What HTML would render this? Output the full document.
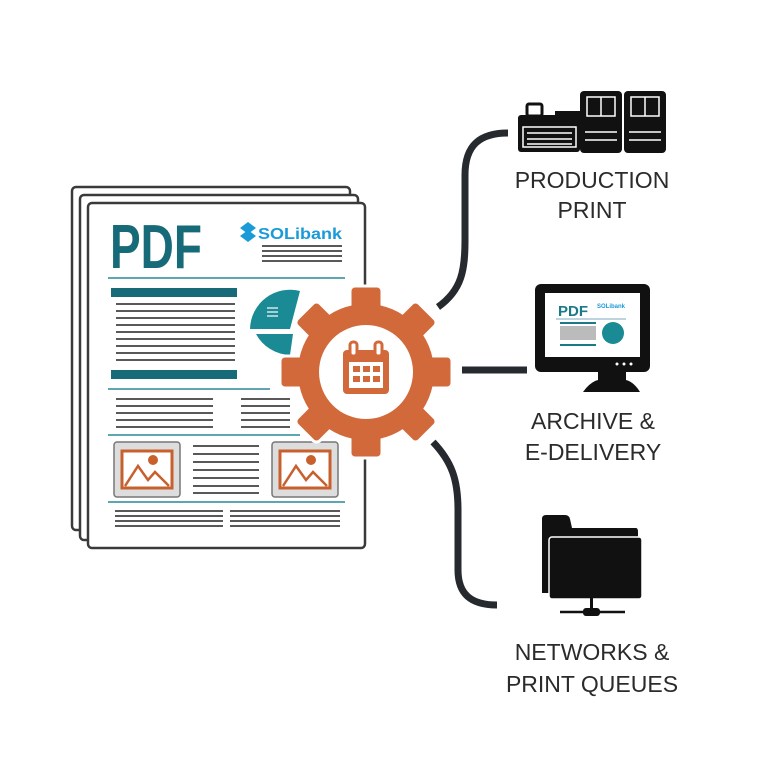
<!DOCTYPE html>
<html><head><meta charset="utf-8"><style>
html,body{margin:0;padding:0;background:#fff;}
svg{display:block}
text{font-family:"Liberation Sans",sans-serif}
</style></head><body>
<svg width="768" height="768" viewBox="0 0 768 768" xmlns="http://www.w3.org/2000/svg">
<rect width="768" height="768" fill="#fff"/>
<!-- pages -->
<rect x="72" y="187" width="278" height="343" rx="4" fill="#fff" stroke="#3a3a3a" stroke-width="2.5"/>
<rect x="80" y="195" width="278" height="345" rx="4" fill="#fff" stroke="#3a3a3a" stroke-width="2.5"/>
<rect x="88" y="203" width="277" height="345" rx="4" fill="#fff" stroke="#3a3a3a" stroke-width="2.5"/>
<text x="110" y="268" font-size="62" font-weight="bold" fill="#176b78" textLength="92" lengthAdjust="spacingAndGlyphs">PDF</text>
<g fill="#1a9ad8"><path d="M240 228 l8 -6 8 6 -8 6z M240 236 l8 -6 8 6 -8 6z"/></g>
<text x="258" y="239" font-size="16" font-weight="bold" fill="#1a9ad8" textLength="84" lengthAdjust="spacingAndGlyphs">SOLibank</text>
<g stroke="#222" stroke-width="1.5"><line x1="262" y1="246" x2="342" y2="246"/><line x1="262" y1="251" x2="342" y2="251"/><line x1="262" y1="256" x2="342" y2="256"/><line x1="262" y1="261" x2="342" y2="261"/></g>
<g stroke="#2a8a96" stroke-width="1.5"><line x1="108" y1="278" x2="345" y2="278"/><line x1="108" y1="389" x2="270" y2="389"/><line x1="108" y1="435" x2="300" y2="435"/><line x1="108" y1="502" x2="345" y2="502"/></g>
<rect x="111" y="288" width="126" height="9" fill="#176b78"/>
<rect x="111" y="370" width="126" height="9" fill="#176b78"/>
<g stroke="#222" stroke-width="1.6">
<line x1="116" y1="304" x2="235" y2="304"/><line x1="116" y1="311" x2="235" y2="311"/><line x1="116" y1="318" x2="235" y2="318"/><line x1="116" y1="325" x2="235" y2="325"/><line x1="116" y1="332" x2="235" y2="332"/><line x1="116" y1="339" x2="235" y2="339"/><line x1="116" y1="346" x2="235" y2="346"/><line x1="116" y1="353" x2="235" y2="353"/><line x1="116" y1="360" x2="235" y2="360"/>
<line x1="116" y1="399" x2="213" y2="399"/><line x1="116" y1="406" x2="213" y2="406"/><line x1="116" y1="413" x2="213" y2="413"/><line x1="116" y1="420" x2="213" y2="420"/><line x1="116" y1="427" x2="213" y2="427"/>
<line x1="241" y1="399" x2="290" y2="399"/><line x1="241" y1="406" x2="290" y2="406"/><line x1="241" y1="413" x2="290" y2="413"/><line x1="241" y1="420" x2="290" y2="420"/><line x1="241" y1="427" x2="290" y2="427"/>
<line x1="193" y1="446" x2="259" y2="446"/><line x1="193" y1="454" x2="259" y2="454"/><line x1="193" y1="462" x2="259" y2="462"/><line x1="193" y1="470" x2="259" y2="470"/><line x1="193" y1="478" x2="259" y2="478"/><line x1="193" y1="486" x2="259" y2="486"/><line x1="193" y1="493" x2="259" y2="493"/>
<line x1="115" y1="511" x2="223" y2="511"/><line x1="115" y1="516" x2="223" y2="516"/><line x1="115" y1="521" x2="223" y2="521"/><line x1="115" y1="526" x2="223" y2="526"/>
<line x1="230" y1="511" x2="340" y2="511"/><line x1="230" y1="516" x2="340" y2="516"/><line x1="230" y1="521" x2="340" y2="521"/><line x1="230" y1="526" x2="340" y2="526"/>
</g>
<!-- pie -->
<path d="M250 329 A40 40 0 0 1 300 291 L290 329 Z" fill="#1a8a94"/>
<path d="M256 334 L293 334 L290 355 A40 40 0 0 1 256 334 Z" fill="#1a8a94"/>
<g stroke="#fff" stroke-width="1.2"><line x1="267" y1="308" x2="278" y2="308"/><line x1="267" y1="312" x2="278" y2="312"/><line x1="267" y1="316" x2="278" y2="316"/></g>
<!-- images -->
<g>
<rect x="114" y="442" width="66" height="55" rx="3" fill="#ddd" stroke="#777" stroke-width="1.5"/>
<rect x="122" y="451" width="50" height="37" fill="#fff" stroke="#c8602e" stroke-width="3"/>
<path d="M125 486 L138 466 L148 480 L155 472 L169 486" fill="none" stroke="#c8602e" stroke-width="2.5"/>
<circle cx="153" cy="460" r="5" fill="#c8602e"/>
<rect x="272" y="442" width="66" height="55" rx="3" fill="#ddd" stroke="#777" stroke-width="1.5"/>
<rect x="280" y="451" width="50" height="37" fill="#fff" stroke="#c8602e" stroke-width="3"/>
<path d="M283 486 L296 466 L306 480 L313 472 L327 486" fill="none" stroke="#c8602e" stroke-width="2.5"/>
<circle cx="311" cy="460" r="5" fill="#c8602e"/>
</g>
<!-- connectors -->
<g fill="none" stroke="#26292d" stroke-width="7" stroke-linecap="butt">
<path d="M438 307 C462 290 465 270 465 240 L465 175 C465 145 480 133 508 133"/>
<line x1="462" y1="370" x2="527" y2="370"/>
<path d="M433 442 C452 462 458 480 458 510 L458 570 C458 595 472 605 497 605"/>
</g>
<!-- gear -->
<g transform="translate(366,372)" fill="#d2693a" stroke="#fff" stroke-width="3">
<g id="t">
<rect x="-16" y="-86" width="32" height="40" rx="5"/>
<rect x="-16" y="-86" width="32" height="40" rx="5" transform="rotate(45)"/>
<rect x="-16" y="-86" width="32" height="40" rx="5" transform="rotate(90)"/>
<rect x="-16" y="-86" width="32" height="40" rx="5" transform="rotate(135)"/>
<rect x="-16" y="-86" width="32" height="40" rx="5" transform="rotate(180)"/>
<rect x="-16" y="-86" width="32" height="40" rx="5" transform="rotate(225)"/>
<rect x="-16" y="-86" width="32" height="40" rx="5" transform="rotate(270)"/>
<rect x="-16" y="-86" width="32" height="40" rx="5" transform="rotate(315)"/>
</g>
<circle r="68" stroke="none"/>
<circle r="47" fill="#fff" stroke="none"/>
<rect x="-23" y="-22" width="46" height="44" rx="4" fill="#d2693a" stroke="none"/>
<rect x="-17" y="-10" width="34" height="26" fill="#fff" stroke="none"/>
<rect x="-16" y="-30" width="7" height="14" rx="3" fill="#fff" stroke="#d2693a" stroke-width="3"/>
<rect x="9" y="-30" width="7" height="14" rx="3" fill="#fff" stroke="#d2693a" stroke-width="3"/>
<g stroke="none"><rect x="-13" y="-6" width="7" height="6"/><rect x="-3" y="-6" width="7" height="6"/><rect x="7" y="-6" width="7" height="6"/><rect x="-13" y="4" width="7" height="6"/><rect x="-3" y="4" width="7" height="6"/><rect x="7" y="4" width="7" height="6"/></g>
</g>
<!-- printer icon -->
<g fill="#111">
<rect x="527" y="104" width="15" height="12" rx="2" fill="#fff" stroke="#111" stroke-width="3"/>
<rect x="518" y="115" width="62" height="37" rx="3"/>
<rect x="555" y="111" width="25" height="10"/>
<rect x="580" y="91" width="42" height="62" rx="4"/>
<rect x="624" y="91" width="42" height="62" rx="4"/>
</g>
<g stroke="#fff" stroke-width="1.5" fill="none">
<rect x="523" y="127" width="53" height="20"/>
<line x1="527" y1="133" x2="572" y2="133"/><line x1="527" y1="139" x2="572" y2="139"/><line x1="527" y1="144" x2="572" y2="144"/>
<rect x="587" y="97" width="28" height="19"/><line x1="601" y1="97" x2="601" y2="116"/>
<rect x="631" y="97" width="28" height="19"/><line x1="645" y1="97" x2="645" y2="116"/>
<line x1="585" y1="132" x2="617" y2="132"/><line x1="585" y1="140" x2="617" y2="140"/>
<line x1="629" y1="132" x2="661" y2="132"/><line x1="629" y1="140" x2="661" y2="140"/>
</g>
<g font-size="23" fill="#2b2b2b" text-anchor="middle">
<text x="592" y="188">PRODUCTION</text>
<text x="592" y="218">PRINT</text>
<text x="593" y="429">ARCHIVE &amp;</text>
<text x="593" y="460">E-DELIVERY</text>
<text x="592" y="660">NETWORKS &amp;</text>
<text x="592" y="692">PRINT QUEUES</text>
</g>
<!-- monitor -->
<rect x="535" y="284" width="115" height="88" rx="6" fill="#111"/>
<rect x="545" y="293" width="95" height="64" fill="#fff"/>
<text x="558" y="316" font-size="15" font-weight="bold" fill="#1a7a88">PDF</text>
<text x="597" y="308" font-size="6" font-weight="bold" fill="#1a9ad8">SOLibank</text>
<line x1="556" y1="319" x2="626" y2="319" stroke="#7ab" stroke-width="1"/>
<rect x="560" y="322" width="36" height="2" fill="#1a7a88"/>
<rect x="560" y="326" width="36" height="14" fill="#bbb"/>
<rect x="560" y="344" width="36" height="2" fill="#1a7a88"/>
<circle cx="613" cy="333" r="11" fill="#1a8a94"/>
<rect x="598" y="372" width="28" height="10" fill="#111"/>
<path d="M583 392 Q590 382 598 380 L626 380 Q634 382 640 392 Z" fill="#111"/>
<g fill="#fff"><circle cx="617" cy="364" r="1.5"/><circle cx="624" cy="364" r="1.5"/><circle cx="631" cy="364" r="1.5"/></g>
<!-- folder -->
<path d="M542 519 Q542 515 546 515 L565 515 Q569 515 570 519 L572 528 L636 528 Q638 528 638 532 L638 593 L542 593 Z" fill="#111"/>
<rect x="549" y="537" width="93" height="62" rx="3" fill="#111" stroke="#fff" stroke-width="1.5"/>
<rect x="590" y="598" width="3" height="12" fill="#111"/>
<rect x="583" y="608" width="17" height="8" rx="3" fill="#111"/>
<line x1="560" y1="612" x2="625" y2="612" stroke="#111" stroke-width="2.5"/>
</svg>
</body></html>
